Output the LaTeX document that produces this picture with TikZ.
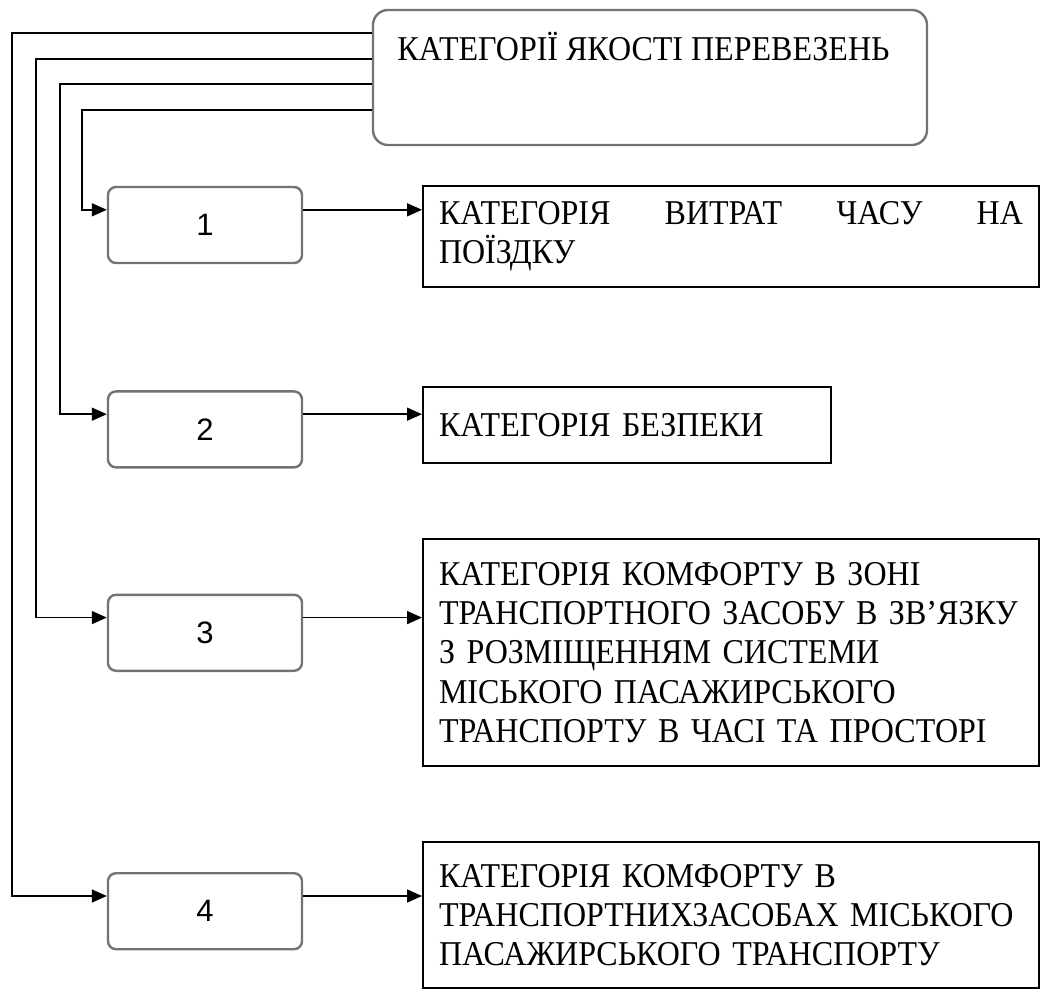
\documentclass[tikz,border=0pt]{standalone}
\usepackage{fontspec}
\setmainfont{Liberation Serif}
\newfontfamily\catfont[FakeStretch=0.92]{Liberation Serif}
\newfontfamily\numfont{Liberation Sans}
\usetikzlibrary{positioning, arrows.meta}

\begin{document}
\begin{tikzpicture}[x=0.5pt, y=-0.5pt]
  \tikzset{
    rootbox/.style={
      draw=gray!90!black, line width=1.2pt, rounded corners=7.5pt,
      minimum width=277pt, minimum height=67.5pt, inner sep=0pt
    },
    numbox/.style={
      draw=gray!90!black, line width=1.2pt, rounded corners=4pt,
      minimum width=97pt, minimum height=38pt, inner sep=0pt,
      font=\numfont\fontsize{15.5}{18}\selectfont
    },
    catbox/.style={
      draw=black, line width=1pt, anchor=west, inner xsep=8pt, inner ysep=0pt,
      align=left, text width=292pt,
      font=\catfont\fontsize{17.4}{19.6}\selectfont
    },
    link/.style={draw=black, line width=0.8pt},
    arr/.style={link, -{Triangle[length=7.5pt, width=6.5pt]}}
  }
  \useasboundingbox (0,0) rectangle (1040,990);

  \node[rootbox] (cat) at (650,77.5) {};
  \node[anchor=base west, inner sep=0pt, font=\catfont\fontsize{17.4}{19.6}\selectfont]
    (cattitle) at (397,60.5) {КАТЕГОРІЇ ЯКОСТІ ПЕРЕВЕЗЕНЬ};

  \node[numbox] (n1) at (205,225) {1};
  \node[numbox, below=63pt of n1] (n2) {2};
  \node[numbox, below=62.5pt of n2] (n3) {3};
  \node[numbox, below=100pt of n3] (n4) {4};

  \node[catbox, minimum height=50.5pt] (c1) at (422,236.5)
    {КАТЕГОРІЯ\hfill ВИТРАТ\hfill ЧАСУ\hfill НА\\ПОЇЗДКУ};
  \node[catbox, minimum height=38pt, text width=188pt] (c2) at (422,425)
    {КАТЕГОРІЯ БЕЗПЕКИ};
  \node[catbox, minimum height=113.5pt] (c3) at (422,652.5)
    {КАТЕГОРІЯ КОМФОРТУ В ЗОНІ\\ТРАНСПОРТНОГО ЗАСОБУ В ЗВ’ЯЗКУ\\З РОЗМІЩЕННЯМ СИСТЕМИ\\МІСЬКОГО ПАСАЖИРСЬКОГО\\ТРАНСПОРТУ В ЧАСІ ТА ПРОСТОРІ};
  \node[catbox, minimum height=73pt] (c4) at (422,915)
    {КАТЕГОРІЯ КОМФОРТУ В\\ТРАНСПОРТНИХЗАСОБАХ МІСЬКОГО\\ПАСАЖИРСЬКОГО ТРАНСПОРТУ};

  % from the root box down to the numbers
  \draw[arr] ([yshift=-50.5pt]cat.north west) -- ++(-290,0) |- ([yshift=-12pt]n1.north west);
  \draw[arr] ([yshift=-37.5pt]cat.north west) -- ++(-312,0) |- ([yshift=-12pt]n2.north west);
  \draw[arr] ([yshift=-25pt]cat.north west) -- ++(-336,0) |- ([yshift=-12pt]n3.north west);
  \draw[arr] ([yshift=-12pt]cat.north west) -- ++(-360,0) |- ([yshift=-12pt]n4.north west);

  % numbers to categories
  \draw[arr] ([yshift=-12pt]n1.north east) -- ([yshift=-12pt]n1.north east -| c1.west);
  \draw[arr] ([yshift=-12pt]n2.north east) -- ([yshift=-12pt]n2.north east -| c2.west);
  \draw[arr] ([yshift=-12pt]n3.north east) -- ([yshift=-12pt]n3.north east -| c3.west);
  \draw[arr] ([yshift=-12pt]n4.north east) -- ([yshift=-12pt]n4.north east -| c4.west);
\end{tikzpicture}
\end{document}
